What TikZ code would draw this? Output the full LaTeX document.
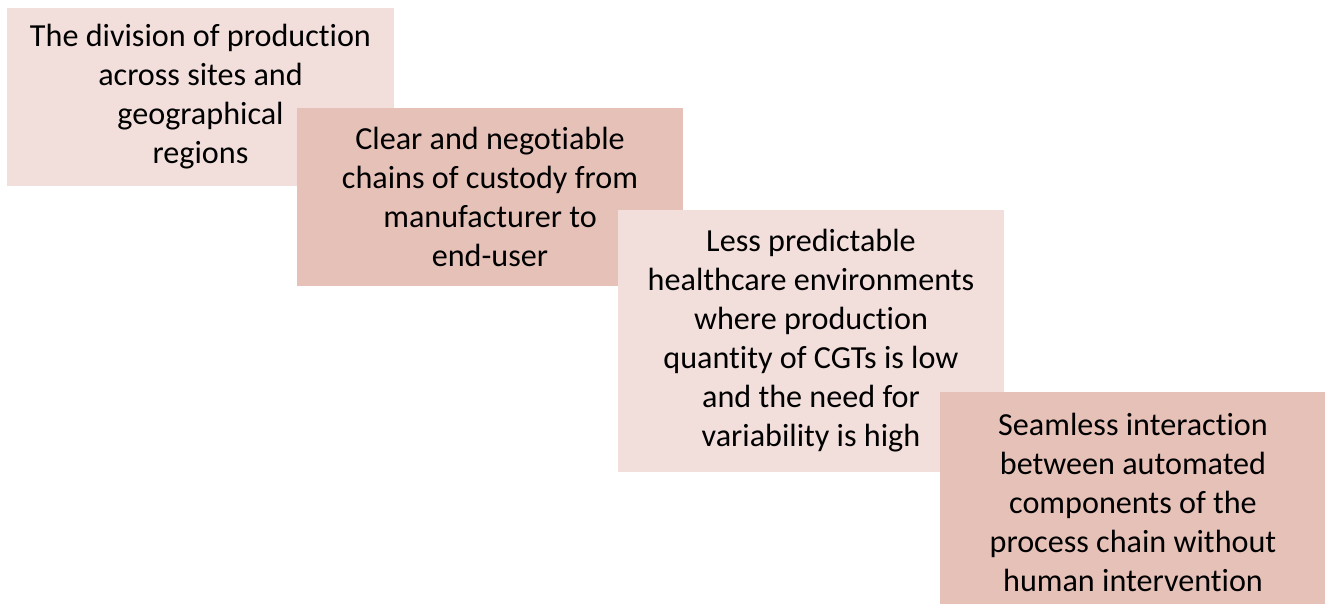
\documentclass[tikz,border=0pt]{standalone}
\usepackage{fontspec}
\setmainfont{Carlito}[Ligatures=NoCommon]
\usepackage{tikz}
\usetikzlibrary{positioning}
\definecolor{palerose}{HTML}{F2DFDB}
\definecolor{deeprose}{HTML}{E6C1B8}

\begin{document}
\begin{tikzpicture}[
                    x=0.02cm,
                    y=-0.02cm,
                    card/.style={rectangle, align=center, inner sep=0pt,
                                 minimum width=7.74cm,
                                 font=\fontsize{18.3}{22.2}\selectfont},
                    pale/.style={card, fill=palerose},
                    deep/.style={card, fill=deeprose}
                ]
                \useasboundingbox (0,0) rectangle (1325,603);

                \node (division) [pale, minimum height=3.56cm] at (200.5,97)
                    {The division of production\\across sites and\\geographical\\regions} ;
                \node (custody) [deep, minimum height=3.56cm] at (490,197)
                    {Clear and negotiable\\chains of custody from\\manufacturer to\\end-user} ;
                \node (healthcare) [pale, minimum height=5.24cm] at (811,341)
                    {Less predictable\\healthcare environments\\where production\\quantity of CGTs is low\\and the need for\\variability is high} ;
                \node (seamless) [deep, minimum height=4.4cm] at (1133,502)
                    {Seamless interaction\\between automated\\components of the\\process chain without\\human intervention} ;
            \end{tikzpicture}
\end{document}
